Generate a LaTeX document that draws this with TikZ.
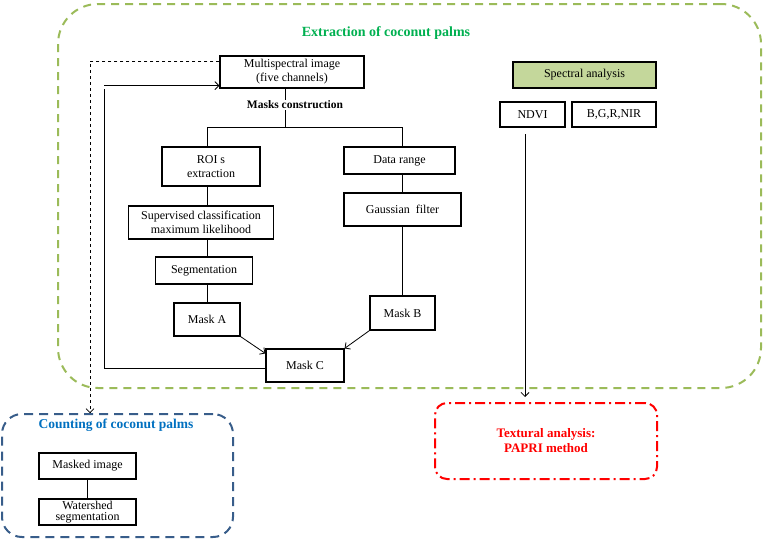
\documentclass[tikz,border=0pt]{standalone}
\usepackage{fontspec}
\setmainfont{Liberation Serif}
\usetikzlibrary{arrows.meta}
\definecolor{gdash}{RGB}{155,187,89}
\definecolor{gtitle}{RGB}{0,176,80}
\definecolor{bdash}{RGB}{56,93,138}
\definecolor{btitle}{RGB}{0,112,192}
\definecolor{safill}{RGB}{196,215,155}
\begin{document}
\begin{tikzpicture}[x=1pt,y=-1pt,
  box/.style={draw, line width=1.2pt, align=center, inner sep=0pt, font=\fontsize{12}{14}\selectfont},
  conn/.style={line width=0.8pt},
  arr/.style={line width=0.8pt, -{Straight Barb[length=4pt,width=8pt]}},
  cont/.style={line width=2pt, inner sep=0pt}]
\useasboundingbox (0,0) rectangle (773,541);
% containers
\node[cont, draw=gdash, dash pattern=on 8pt off 6pt, rounded corners=40pt,
  minimum width=703pt, minimum height=384pt] (green) at (409.5,196) {};
\node[cont, draw=bdash, dash pattern=on 9pt off 6pt, rounded corners=20pt,
  minimum width=231pt, minimum height=123pt] (blue) at (117.5,475.5) {};
\node[cont, draw=red, dash pattern=on 10pt off 4pt on 2pt off 4pt, rounded corners=12pt,
  minimum width=222pt, minimum height=76pt] (redb) at (546,441) {};
% titles
\node[font=\bfseries\fontsize{14}{16}\selectfont, text=gtitle] (gt) at (386,33) {Extraction of coconut palms};
\node[font=\bfseries\fontsize{13.5}{15}\selectfont, text=btitle] (bt) at (116,425) {Counting of coconut palms};
\node[font=\bfseries\fontsize{13}{15}\selectfont, text=red, align=center] (rt) at (546,441) {Textural analysis:\\PAPRI method};
% left flow
\node[box, minimum width=144pt, minimum height=32pt] (ms) at (292,72) {Multispectral image\\(five channels)};
\node[font=\bfseries\fontsize{11.5}{12}\selectfont, inner sep=1pt] (mc) at (295,105) {Masks construction};
\node[box, minimum width=98pt, minimum height=39pt] (roi) at (211,166.5) {ROI s\\extraction};
\node[box, minimum width=145pt, minimum height=33pt] (sup) at (201,222.5) {Supervised classification\\maximum likelihood};
\node[box, minimum width=97pt, minimum height=27pt] (seg) at (204,270.5) {Segmentation};
\node[box, minimum width=66pt, minimum height=33pt] (ma) at (207,319.5) {Mask A};
\node[box, minimum width=111pt, minimum height=27pt] (dr) at (399.5,160.5) {Data range};
\node[box, minimum width=117pt, minimum height=33pt] (gf) at (402.5,209.5) {Gaussian \ filter};
\node[box, minimum width=65pt, minimum height=34pt] (mb) at (402.5,313) {Mask B};
\node[box, minimum width=78pt, minimum height=33pt] (mcc) at (305,365.5) {Mask C};
% right
\node[box, line width=1.6pt, fill=safill, minimum width=143pt, minimum height=26pt] (sa) at (584.5,75) {Spectral analysis};
\node[box, minimum width=65pt, minimum height=25pt] (ndvi) at (532.5,114.5) {NDVI};
\node[box, minimum width=84pt, minimum height=25pt] (bgr) at (614,114.5) {B,G,R,NIR};
% bottom left
\node[box, minimum width=97pt, minimum height=26pt] (mkd) at (87.5,466) {Masked image};
\node[box, minimum width=97pt, minimum height=26pt, font=\fontsize{12}{11.5}\selectfont] (ws) at (87.5,512) {Watershed\\segmentation};
% coordinates
\coordinate (xa) at (207,0);
\coordinate (xb) at (402,0);
\coordinate (hy) at (0,127);
\coordinate (xm) at (285,0);
\coordinate (loopx) at (104,0);
\coordinate (dashx) at (90,0);
\coordinate (nd) at (525,134);
% connectors
\draw[conn] (ms.south -| xm) -- (mc.north -| xm);
\draw[conn] (mc.south -| xm) -- (xm |- hy);
\draw[conn] (roi.north -| xa) -- (xa |- hy) -- (xb |- hy) -- (dr.north -| xb);
\draw[conn] (roi.south -| xa) -- (sup.north -| xa);
\draw[conn] (sup.south -| xa) -- (seg.north -| xa);
\draw[conn] (seg.south -| xa) -- (ma.north -| xa);
\draw[conn] (dr.south -| xb) -- (gf.north -| xb);
\draw[conn] (gf.south -| xb) -- (mb.north -| xb);
\draw[arr] (ma.south east) -- ([yshift=-5pt]mcc.north west);
\draw[arr] (mb.south west) -- (mcc.north east);
\draw[arr] ([yshift=-2.5pt]mcc.west) -- ([yshift=-2.5pt]mcc.west -| loopx) -- (loopx |- ms.south) ++(0,-3) -- ([yshift=3pt]ms.south west);
\draw[arr, dashed, line width=0.7pt] ([yshift=-6pt]ms.north west) -- ([yshift=-6pt]ms.north west -| dashx) -- (dashx |- blue.north);
\draw[arr] (nd) -- ([yshift=5pt]redb.north -| nd);
\draw[conn] (mkd.south) -- (ws.north);
\end{tikzpicture}
\end{document}
